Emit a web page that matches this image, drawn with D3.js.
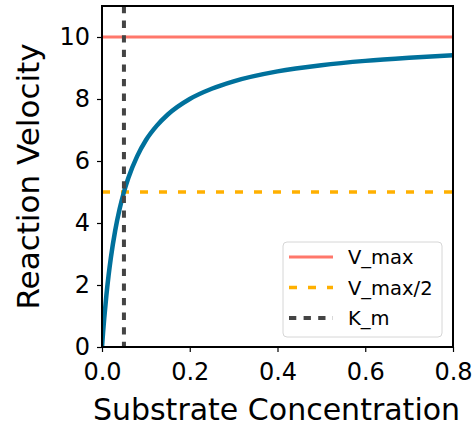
<!DOCTYPE html>
<html>
<head>
<meta charset="utf-8">
<script src="https://cdn.jsdelivr.net/npm/d3@7"></script>
<style>
  body { margin: 0; background: #fff; }
  text { font-family: "DejaVu Sans", sans-serif; fill: #000; }
</style>
</head>
<body>
<svg id="chart" width="473" height="428"></svg>
<script>
const width = 473, height = 428;
const margin = { top: 6, right: 20, bottom: 81, left: 102 };

// substrate concentration and velocity
const substrate = [0, 0.0025, 0.005, 0.01, 0.015, 0.02, 0.03, 0.04, 0.05, 0.06, 0.08,
  0.1, 0.125, 0.15, 0.2, 0.25, 0.3, 0.4, 0.5, 0.6, 0.7, 0.8];
const velocity = [0, 0.48, 0.91, 1.67, 2.31, 2.86, 3.75, 4.44, 5.0, 5.45, 6.15,
  6.67, 7.14, 7.5, 8.0, 8.33, 8.57, 8.89, 9.09, 9.23, 9.33, 9.41];

const vMax = 10, halfVMax = 5, kM = 0.05;
const xTicks = [0, 0.2, 0.4, 0.6, 0.8];
const yTicks = [0, 2, 4, 6, 8, 10];
const legendLabels = ["V_max", "V_max/2", "K_m"];

const svg = d3.select("#chart");
const x = d3.scaleLinear().domain([0, 0.8]).range([margin.left, width - margin.right]);
const y = d3.scaleLinear().domain([0, 11]).range([height - margin.bottom, margin.top]);

const plot = svg.append("g");
plot.append("clipPath").attr("id", "clip")
  .append("rect")
  .attr("x", margin.left).attr("y", margin.top)
  .attr("width", x(0.8) - margin.left).attr("height", y(0) - margin.top);

const inner = plot.append("g").attr("clip-path", "url(#clip)");

// V_max
inner.append("line")
  .attr("x1", x(0)).attr("x2", x(0.8))
  .attr("y1", y(vMax)).attr("y2", y(vMax))
  .attr("stroke", "#ff776b").attr("stroke-width", 3);

// V_max / 2
inner.append("line")
  .attr("x1", x(0)).attr("x2", x(0.8))
  .attr("y1", y(halfVMax)).attr("y2", y(halfVMax))
  .attr("stroke", "#ffb000").attr("stroke-width", 3.5)
  .attr("stroke-dasharray", "8,11");

// Michaelis-Menten curve
const line = d3.line()
  .x((d, i) => x(substrate[i]))
  .y(d => y(d))
  .curve(d3.curveMonotoneX);

inner.append("path")
  .datum(velocity)
  .attr("d", line)
  .attr("fill", "none")
  .attr("stroke", "#00719c")
  .attr("stroke-width", 4.5);

// K_m
inner.append("line")
  .attr("x1", x(kM)).attr("x2", x(kM))
  .attr("y1", y(11)).attr("y2", y(0))
  .attr("stroke", "#444").attr("stroke-width", 4)
  .attr("stroke-dasharray", "7.3,7.3");

// axes
const xAxis = svg.append("g")
  .attr("transform", `translate(0,${y(0)})`)
  .call(d3.axisBottom(x).tickValues(xTicks).tickFormat(d3.format(".1f")).tickSize(5).tickPadding(11));
const yAxis = svg.append("g")
  .attr("transform", `translate(${x(0)},0)`)
  .call(d3.axisLeft(y).tickValues(yTicks).tickFormat(d3.format("d")).tickSize(5).tickPadding(7));

[xAxis, yAxis].forEach(a => {
  a.select(".domain").remove();
  a.selectAll(".tick line").attr("stroke", "#000").attr("stroke-width", 1.2);
  a.selectAll(".tick text").style("font-size", "24px").style("font-family", "DejaVu Sans");
});

// frame
svg.append("rect")
  .attr("x", x(0)).attr("y", y(11))
  .attr("width", x(0.8) - x(0)).attr("height", y(0) - y(11))
  .attr("fill", "none").attr("stroke", "#000").attr("stroke-width", 2);

svg.append("text")
  .attr("x", (x(0) + x(0.8)) / 2 - 1).attr("y", 420)
  .attr("text-anchor", "middle").style("font-size", "30px")
  .text("Substrate Concentration");

svg.append("text")
  .attr("transform", `translate(39,${(y(0) + y(11)) / 2}) rotate(-90)`)
  .attr("text-anchor", "middle").style("font-size", "31px")
  .text("Reaction Velocity");

// legend
const legend = svg.append("g");
legend.append("rect")
  .attr("x", 283).attr("y", 242).attr("width", 159).attr("height", 95)
  .attr("rx", 4).attr("fill", "#fff").attr("fill-opacity", 0.8)
  .attr("stroke", "#d6d6d6").attr("stroke-width", 1);

const legendStyles = [
  { color: "#ff776b", dash: null, w: 3 },
  { color: "#ffb000", dash: "8,11", w: 3.5 },
  { color: "#444", dash: "7.3,7.3", w: 4 }
];

legendLabels.forEach((label, i) => {
  const ly = 257 + i * 30.5;
  const s = legendStyles[i];
  legend.append("line")
    .attr("x1", 289).attr("x2", 333).attr("y1", ly).attr("y2", ly)
    .attr("stroke", s.color).attr("stroke-width", s.w)
    .attr("stroke-dasharray", s.dash);
  legend.append("text")
    .attr("x", 348).attr("y", ly + 7)
    .style("font-size", "19.5px")
    .text(label);
});
</script>
</body>
</html>
